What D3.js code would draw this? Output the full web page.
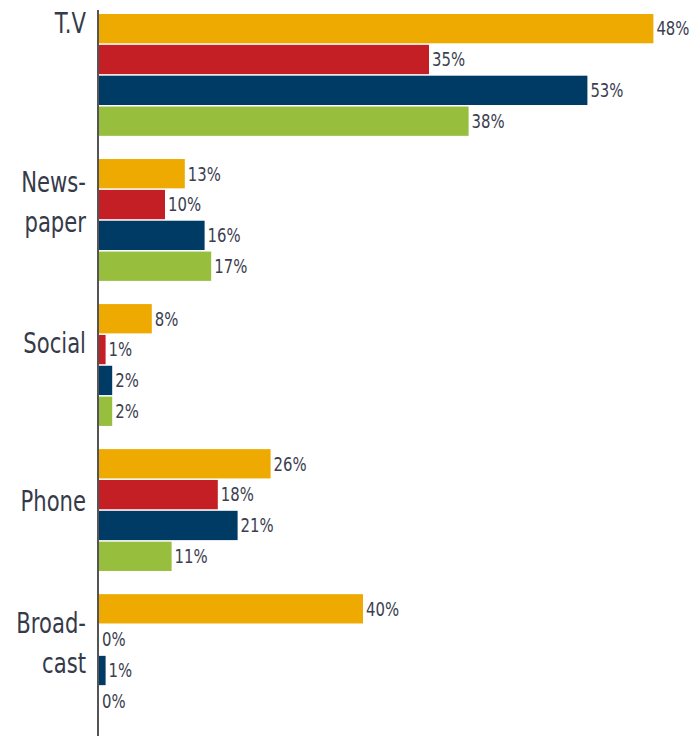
<!DOCTYPE html>
<html>
<head>
<meta charset="utf-8">
<script src="https://cdn.jsdelivr.net/npm/d3@7"></script>
<style>
  html, body { margin: 0; padding: 0; background: #fff; }
  svg { display: block; }
  .cat { font-family: "Liberation Sans Narrow", "DejaVu Sans Condensed", "Roboto", sans-serif; fill: #353a4a; }
  .val { font-family: "Liberation Sans Narrow", "DejaVu Sans Condensed", "Roboto", sans-serif; fill: #3b4050; }
</style>
</head>
<body>
<div class="chart"></div>
<script>
// ---------- Data

var categories = ["T.V", "News-\npaper", "Social", "Phone", "Broad-\ncast"];
var seriesKeys = ["s1", "s2", "s3", "s4"];
var seriesColors = ["#eeaa00", "#c51f26", "#003b65", "#97be3c"];

// bar lengths as drawn (T.V bars are drawn longer than their labels in the original)
var s1Values = [84, 13, 8, 26, 40];
var s2Values = [50, 10, 1, 18, 0];
var s3Values = [74, 16, 2, 21, 1];
var s4Values = [56, 17, 2, 11, 0];

// printed labels
var s1Labels = ["48%", "13%", "8%", "26%", "40%"];
var s2Labels = ["35%", "10%", "1%", "18%", "0%"];
var s3Labels = ["53%", "16%", "2%", "21%", "1%"];
var s4Labels = ["38%", "17%", "2%", "11%", "0%"];

var allValues = [s1Values, s2Values, s3Values, s4Values];
var allLabels = [s1Labels, s2Labels, s3Labels, s4Labels];

// ---------- Layout

var width = 697, height = 736;
var axisX = 99;
// baseline of the first line of each category label, measured from the top of its band
var labelTop = [19, 33, 49, 62, 39];

var svg = d3.select("div.chart").append("svg")
  .attr("width", width)
  .attr("height", height);

var y = d3.scaleBand()
  .domain(categories)
  .range([14, 716])
  .paddingInner(0.16)
  .paddingOuter(0);

var ySub = d3.scaleBand()
  .domain(seriesKeys)
  .range([0, y.bandwidth()])
  .paddingInner(0.05);

var x = d3.scaleLinear()
  .domain([0, 100])
  .range([axisX, axisX + 660]);

var rows = [];
categories.forEach((c, i) => {
  seriesKeys.forEach((k, j) => {
    rows.push({ cat: c, key: k, value: allValues[j][i], label: allLabels[j][i], color: seriesColors[j] });
  });
});

var groups = svg.append("g").attr("class", "bars")
  .selectAll("g.bar")
  .data(rows)
  .enter()
  .append("g")
  .attr("class", "bar")
  .attr("transform", d => `translate(0, ${y(d.cat) + ySub(d.key)})`);

groups.append("rect")
  .attr("x", x(0))
  .attr("y", 0)
  .attr("width", d => x(d.value) - x(0))
  .attr("height", ySub.bandwidth())
  .attr("fill", d => d.color);

groups.append("text")
  .attr("class", "val")
  .attr("transform", d => `translate(${x(d.value) + 3}, ${ySub.bandwidth() / 2}) scale(0.92, 1.05)`)
  .attr("dy", "0.36em")
  .attr("font-size", 18)
  .text(d => d.label);

// axis line
svg.append("line")
  .attr("x1", axisX - 1).attr("x2", axisX - 1)
  .attr("y1", 10).attr("y2", height)
  .attr("stroke", "#555")
  .attr("stroke-width", 2);

// category labels
var cats = svg.append("g").attr("class", "cats")
  .selectAll("text")
  .data(categories)
  .enter()
  .append("text")
  .attr("class", "cat")
  .attr("text-anchor", "end")
  .attr("font-size", 28)
  .attr("transform", (d, i) => `translate(86, ${y(d) + labelTop[i]}) scale(0.84, 1)`);

cats.selectAll("tspan")
  .data(d => d.split("\n"))
  .enter()
  .append("tspan")
  .attr("x", 0)
  .attr("y", (d, i) => i * 40)
  .text(d => d);
</script>
</body>
</html>
